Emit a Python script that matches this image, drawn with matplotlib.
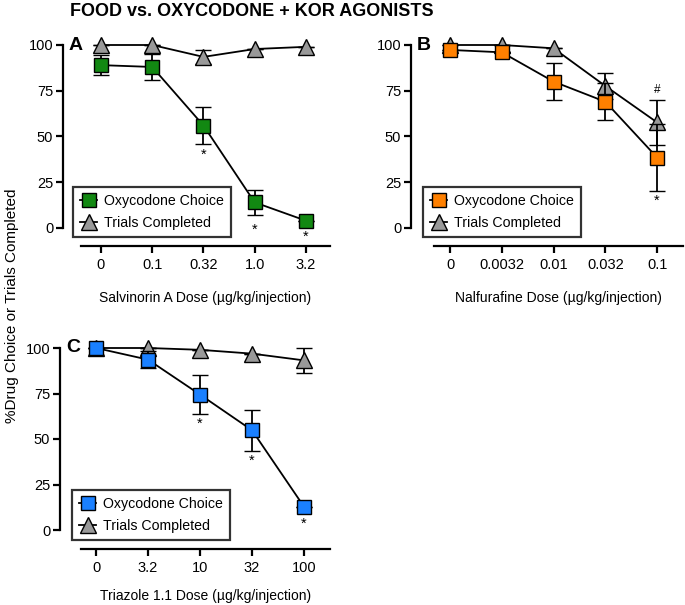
import matplotlib
matplotlib.use("Agg")
import matplotlib.pyplot as plt
import numpy as np

plt.rcParams['font.family'] = ['Liberation Sans', 'DejaVu Sans']

title = "FOOD vs. OXYCODONE + KOR AGONISTS"
ylabel = "%Drug Choice or Trials Completed"

# Panel A: Salvinorin A
a_ticks = ["0", "0.1", "0.32", "1.0", "3.2"]
a_oxy = [89, 88, 56, 14, 4]
a_oxy_err = [5.5, 7, 10, 7, 0]
a_trials = [100, 100, 93.5, 97.8, 99]
a_trials_err = [0, 0, 4, 0, 0]
a_star_y = [None, None, 40, -1, -5]
a_hash_y = [None, None, None, None, None]
a_xlabel = "Salvinorin A Dose (µg/kg/injection)"

# Panel B: Nalfurafine
b_ticks = ["0", "0.0032", "0.01", "0.032", "0.1"]
b_oxy = [97.3, 96, 80, 69, 38.5]
b_oxy_err = [0, 0, 10, 10, 18.5]
b_trials = [100, 100, 98.2, 77.6, 57.7]
b_trials_err = [0, 0, 0, 7, 12.3]
b_star_y = [None, None, None, None, 15]
b_hash_y = [None, None, None, None, 75.5]
b_xlabel = "Nalfurafine Dose (µg/kg/injection)"

# Panel C: Triazole 1.1
c_ticks = ["0", "3.2", "10", "32", "100"]
c_oxy = [100, 93.6, 74.4, 54.8, 12.8]
c_oxy_err = [0, 4.5, 10.5, 11.2, 0]
c_trials = [100, 100, 99, 96.9, 93.2]
c_trials_err = [0, 0, 0, 0, 6.9]
c_star_y = [None, None, 58.5, 38, 3.5]
c_hash_y = [None, None, None, None, None]
c_xlabel = "Triazole 1.1 Dose (µg/kg/injection)"

W, H = 685, 605
fig = plt.figure(figsize=(W / 100, H / 100), dpi=100)

def px_axes(left, right, top, bottom):
    return fig.add_axes([left / W, 1 - bottom / H, (right - left) / W, (bottom - top) / H])

def panel(ax_box, xlim, y0px, y100px, left_spine_px, ticks, oxy, oxy_err, trials, trials_err,
          star_y, hash_y, color, letter, xlabel, legend_box, labelpad=13):
    left, right, top, bottom = ax_box
    ax = px_axes(left, right, top, bottom)
    ppu = (y0px - y100px) / 100.0
    ax.set_ylim(-(bottom - y0px) / ppu, 100 + (y100px - top) / ppu)
    ax.set_xlim(*xlim)
    x = np.arange(len(ticks))
    lw = 1.3
    ax.errorbar(x, trials, yerr=trials_err, color='black', lw=lw, capsize=6, capthick=lw,
                elinewidth=lw, marker='^', ms=11.5, mfc='#999999', mec='black', mew=1.0,
                clip_on=False, zorder=3)
    ax.errorbar(x, oxy, yerr=oxy_err, color='black', lw=lw, capsize=6, capthick=lw,
                elinewidth=lw, marker='s', ms=10, mfc=color, mec='black', mew=1.0,
                clip_on=False, zorder=4)
    for xi, sy in zip(x, star_y):
        if sy is not None:
            ax.text(xi, sy, "*", ha='center', va='center', fontsize=10.5)
    for xi, hy in zip(x, hash_y):
        if hy is not None:
            ax.text(xi, hy, "#", ha='center', va='center', fontsize=8.5)
    for s in ['top', 'right']:
        ax.spines[s].set_visible(False)
    ax.spines['left'].set_position(('outward', (left - left_spine_px) * 0.72))
    ax.spines['left'].set_bounds(0, 100)
    ax.spines['left'].set_linewidth(1.6)
    ax.spines['bottom'].set_linewidth(1.6)
    ax.set_yticks([0, 25, 50, 75, 100])
    ax.set_xticks(x)
    ax.set_xticklabels(ticks)
    ax.tick_params(axis='both', labelsize=10.5, width=1.6, length=5)
    ax.tick_params(axis='x', pad=4)
    ax.tick_params(axis='y', pad=2)
    ax.patch.set_visible(False)
    # panel letter
    ax.text((left_spine_px + 6 - left) / (right - left), 1 - (y100px - top) / (bottom - top), letter,
            transform=ax.transAxes, ha='left', va='center', fontsize=14, fontweight='bold')
    ax.set_xlabel(xlabel, fontsize=10, labelpad=labelpad)
    # legend
    h1 = plt.Line2D([], [], marker='s', ms=10, mfc=color, mec='black', color='black', lw=1.3)
    h2 = plt.Line2D([], [], marker='^', ms=11.5, mfc='#999999', mec='black', color='black', lw=1.3)
    lx, ly = legend_box
    leg = ax.legend([h1, h2], ["Oxycodone Choice", "Trials Completed"],
                    loc='lower left', bbox_to_anchor=((lx - left) / (right - left),
                                                      (bottom - ly) / (bottom - top)),
                    bbox_transform=ax.transAxes,
                    frameon=True, fancybox=False, edgecolor='black', fontsize=10.2,
                    handlelength=1.2, handletextpad=0.5, borderpad=0.5, labelspacing=0.55,
                    borderaxespad=0)
    leg.get_frame().set_linewidth(1.6)
    return ax

panel((81, 330, 40, 246), (-0.39, 4.47), 228, 45, 63, a_ticks, a_oxy, a_oxy_err,
      a_trials, a_trials_err, a_star_y, a_hash_y, '#128812', 'A', a_xlabel, (73, 237))
panel((434, 683, 40, 246), (-0.31, 4.5), 228, 45, 411, b_ticks, b_oxy, b_oxy_err,
      b_trials, b_trials_err, b_star_y, b_hash_y, '#ff8000', 'B', b_xlabel, (423, 237))
panel((81, 330, 343, 549), (-0.29, 4.5), 530, 348, 60, c_ticks, c_oxy, c_oxy_err,
      c_trials, c_trials_err, c_star_y, c_hash_y, '#1a80ff', 'C', c_xlabel, (72, 540),
      labelpad=10)

fig.text(70 / W, 1 - 12 / H, title, ha='left', va='center', fontsize=13, fontweight='bold')
fig.text(12 / W, 1 - 306 / H, ylabel, ha='center', va='center', rotation=90, fontsize=11)

fig.savefig("out.png", dpi=100)
